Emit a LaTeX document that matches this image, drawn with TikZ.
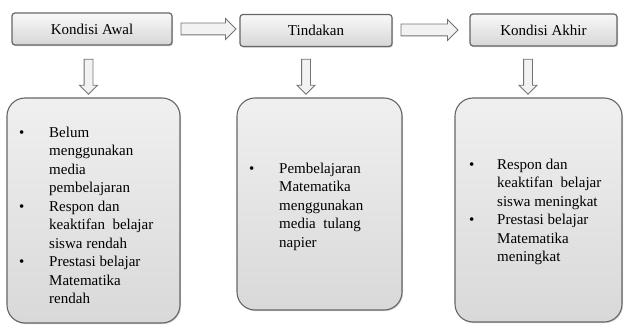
\documentclass[tikz,border=0pt]{standalone}
\usepackage{fontspec}
\setmainfont{Liberation Serif}
\usetikzlibrary{shapes.arrows,shadows}
\begin{document}
\begin{tikzpicture}[x=1pt,y=1pt,
  topbox/.style={draw=black!60, line width=1.2pt, rounded corners=3pt,
    top color=gray!5, bottom color=gray!32, minimum height=32pt,
    font=\fontsize{15}{18.5}\selectfont, inner sep=0pt,
    drop shadow={shadow xshift=1pt, shadow yshift=-1.2pt, opacity=0.35}},
  bigbox/.style={draw=black!60, line width=1.1pt, rounded corners=18pt,
    top color=gray!12, bottom color=gray!30, inner sep=0pt,
    drop shadow={shadow xshift=1pt, shadow yshift=-1.2pt, opacity=0.35}},
  rarrow/.style={single arrow, draw=black!55, line width=0.9pt, fill=gray!10,
    inner sep=5.5pt, single arrow head extend=4.5pt},
  darrow/.style={single arrow, draw=black!55, line width=0.9pt, fill=gray!10,
    minimum height=35pt, inner sep=4pt, single arrow head extend=4.5pt,
    shape border rotate=270},
  txt/.style={font=\fontsize{15}{18.5}\selectfont, align=left, inner sep=0pt, anchor=north west}
]
\useasboundingbox (0,0) rectangle (628,327);
% top boxes
\node[topbox, minimum width=160pt] (awal) at (92,298) {Kondisi Awal};
\node[topbox, minimum width=152pt] (tind) at (316,296.5) {Tindakan};
\node[topbox, minimum width=147pt] (akhir) at (543.5,297) {Kondisi Akhir};
% horizontal arrows
\node[rarrow, minimum height=55pt] (ra1) at (205.5,298) {};
\node[rarrow, minimum height=57pt] (ra2) at (426.5,297) {};
% down arrows
\node[darrow] (da1) at (88.5,252.5) {};
\node[darrow] (da2) at (306,252.5) {};
\node[darrow] (da3) at (528,252.5) {};
% bottom boxes
\draw[bigbox] (7,229) rectangle (180,4);
\draw[bigbox] (237,229) rectangle (402,17);
\draw[bigbox] (455,229) rectangle (622,5);
% texts
\node[txt] (t1) at (19,200.5) {\makebox[30pt][l]{\textbullet}Belum\\
\hspace*{30pt}menggunakan\\
\hspace*{30pt}media\\
\hspace*{30pt}pembelajaran\\
\makebox[30pt][l]{\textbullet}Respon dan\\
\hspace*{30pt}keaktifan\ \ belajar\\
\hspace*{30pt}siswa rendah\\
\makebox[30pt][l]{\textbullet}Prestasi belajar\\
\hspace*{30pt}Matematika\\
\hspace*{30pt}rendah};
\node[txt] (t2) at (249,164.5) {\makebox[30pt][l]{\textbullet}Pembelajaran\\
\hspace*{30pt}Matematika\\
\hspace*{30pt}menggunakan\\
\hspace*{30pt}media\ \ tulang\\
\hspace*{30pt}napier};
\node[txt] (t3) at (469,168.5) {\makebox[28pt][l]{\textbullet}Respon dan\\
\hspace*{28pt}keaktifan\ \ belajar\\
\hspace*{28pt}siswa meningkat\\
\makebox[28pt][l]{\textbullet}Prestasi belajar\\
\hspace*{28pt}Matematika\\
\hspace*{28pt}meningkat};
\end{tikzpicture}
\end{document}
